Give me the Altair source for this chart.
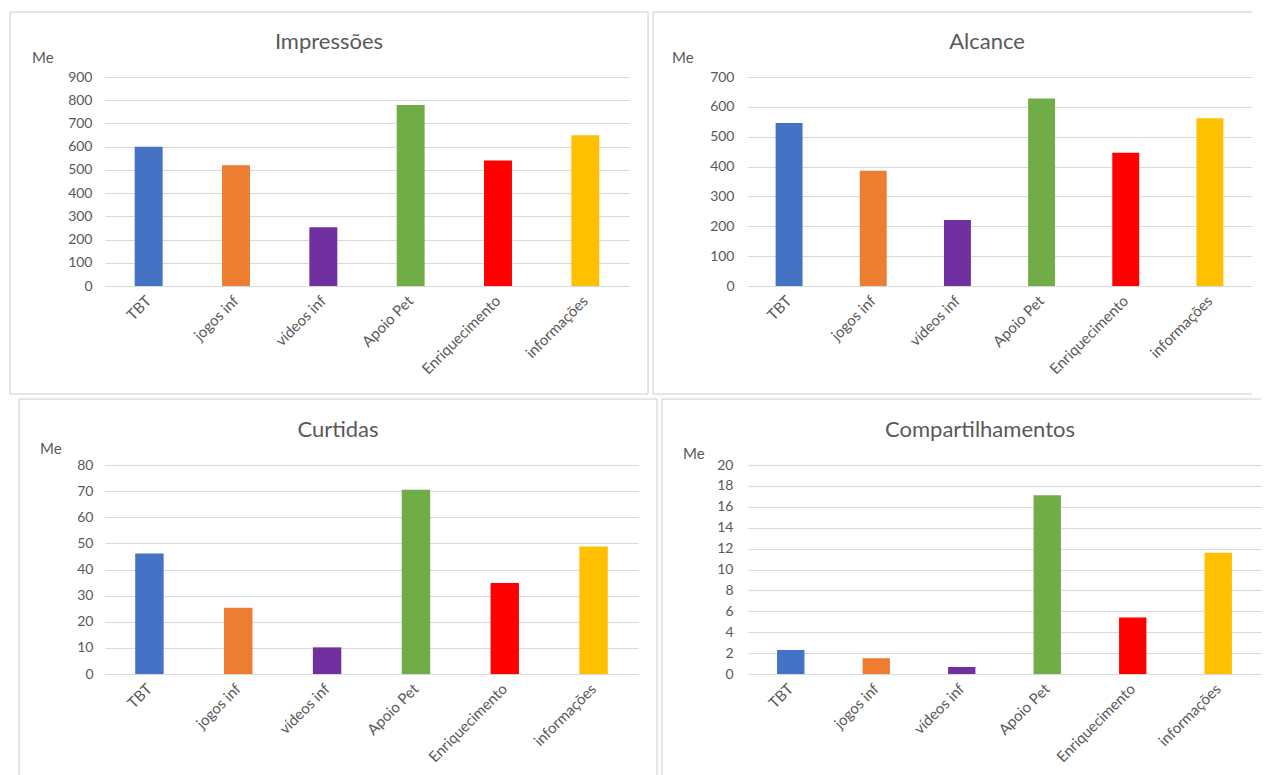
import altair as alt
import pandas as pd

categories = ["TBT", "jogos inf", "vídeos inf", "Apoio Pet", "Enriquecimento", "informações"]
colors = ["#4472C4", "#ED7D31", "#7030A0", "#70AD47", "#FF0000", "#FFC000"]
impressoes = [600, 520, 253, 779, 540, 649]
alcance = [546, 386, 221, 628, 446, 562]
curtidas = [46.1, 25.4, 10.2, 70.5, 34.8, 48.8]
compartilhamentos = [2.3, 1.5, 0.67, 17.1, 5.4, 11.6]
titles = ["Impressões", "Alcance", "Curtidas", "Compartilhamentos"]
y_max = [900, 700, 80, 20]
y_step = [100, 100, 10, 2]
unit_label = "Me"

FONT = "Lato"
GRAY = "#595959"
GRID = "#d9d9d9"
FRAME = "#cccccc"


def one_row(text):
    return pd.DataFrame({"t": [text]})


def hline(x1, x2, y):
    return alt.Chart(one_row("")).mark_rule(color=FRAME, strokeWidth=1).encode(
        x=alt.value(x1), x2=alt.value(x2), y=alt.value(y))


def vline(x, y1, y2):
    return alt.Chart(one_row("")).mark_rule(color=FRAME, strokeWidth=1).encode(
        x=alt.value(x), y=alt.value(y1), y2=alt.value(y2))


def panel(values, title, ymax, ystep, width, height, title_x, me_x, me_y,
          label_pad, frame_left, frame_top, frame_right=None, frame_bottom=None):
    df = pd.DataFrame({"cat": categories, "val": values})
    bars = alt.Chart(df).mark_bar().encode(
        x=alt.X("cat:N", sort=categories,
                scale=alt.Scale(paddingInner=0.68, paddingOuter=0.34),
                axis=alt.Axis(title=None, labelAngle=-45, labelAlign="right",
                              labelBaseline="middle", domain=False, ticks=False,
                              labelPadding=12, labelFontSize=15, labelColor=GRAY,
                              labelFont=FONT)),
        y=alt.Y("val:Q", scale=alt.Scale(domain=[0, ymax], nice=False, zero=True),
                axis=alt.Axis(title=None, values=list(range(0, ymax + 1, ystep)),
                              grid=True, gridColor=GRID, gridWidth=1.2, domain=False,
                              ticks=False, labelPadding=label_pad, labelFontSize=14,
                              labelColor=GRAY, labelFont=FONT)),
        color=alt.Color("cat:N", scale=alt.Scale(domain=categories, range=colors),
                        legend=None),
    )
    ttl = alt.Chart(one_row(title)).mark_text(
        font=FONT, fontSize=22, color=GRAY, align="center", baseline="middle"
    ).encode(x=alt.value(title_x), y=alt.value(-35), text="t:N")
    me = alt.Chart(one_row(unit_label)).mark_text(
        font=FONT, fontSize=15, color=GRAY, align="left", baseline="middle"
    ).encode(x=alt.value(me_x), y=alt.value(me_y), text="t:N")

    right = frame_right if frame_right is not None else width
    layers = [hline(frame_left, right, frame_top)]
    bottom = frame_bottom if frame_bottom is not None else height + 112
    layers.append(vline(frame_left, frame_top, bottom))
    if frame_right is not None:
        layers.append(vline(frame_right, frame_top, bottom))
    if frame_bottom is not None:
        layers.append(hline(frame_left, right, frame_bottom))
    layers += [bars, ttl, me]
    return alt.layer(*layers).properties(width=width, height=height)


p1 = panel(impressoes, titles[0], y_max[0], y_step[0], 524, 209,
           224, -73, -19, 13, -95, -65, frame_right=543, frame_bottom=317)
p2 = panel(alcance, titles[1], y_max[1], y_step[1], 505, 209,
           240, -75, -19, 13, -94, -65, frame_right=None, frame_bottom=317)
p3 = panel(curtidas, titles[2], y_max[2], y_step[2], 533, 209,
           233, -65, -16, 12, -86, -66, frame_right=552, frame_bottom=None)
p4 = panel(compartilhamentos, titles[3], y_max[3], y_step[3], 513, 209,
           232, -65, -11, 15, -86, -66, frame_right=None, frame_bottom=None)

chart = alt.vconcat(
    alt.hconcat(p1, p2, spacing=3),
    alt.hconcat(p3, p4, spacing=3),
    spacing=3,
).properties(
    padding={"left": 1, "top": 3, "right": 0, "bottom": 0}
).configure(background="white").configure_view(stroke=None)

chart.save("out.html", embed_options={"renderer": "svg", "actions": False})
